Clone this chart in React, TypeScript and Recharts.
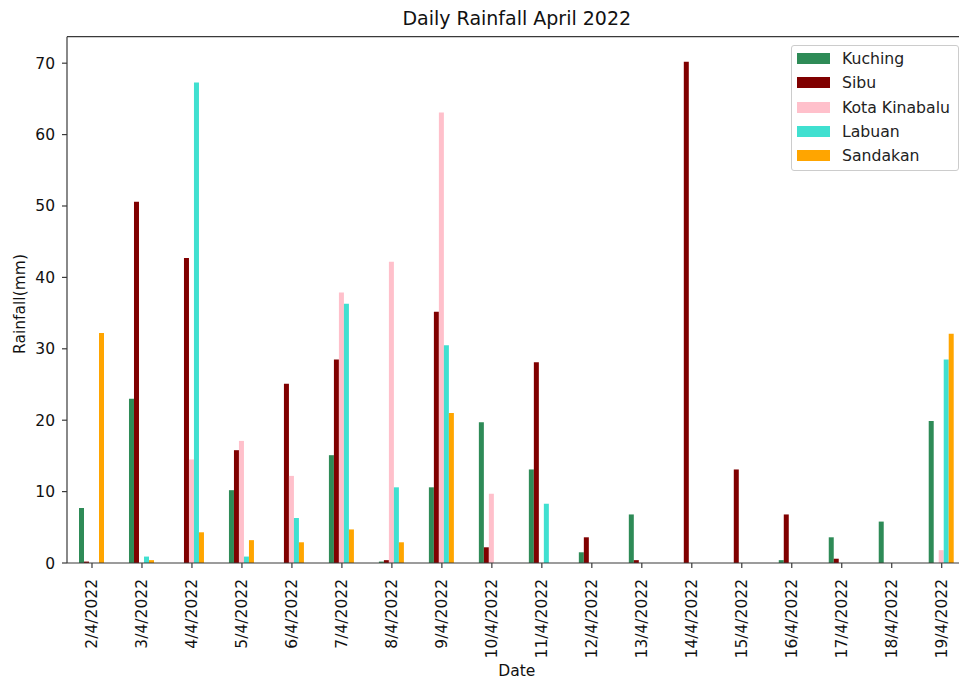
import React from 'react';
import { BarChart, Bar, XAxis, YAxis, Legend, Customized, ReferenceLine } from 'recharts';

const dates = ['2/4/2022', '3/4/2022', '4/4/2022', '5/4/2022', '6/4/2022', '7/4/2022', '8/4/2022', '9/4/2022', '10/4/2022', '11/4/2022', '12/4/2022', '13/4/2022', '14/4/2022', '15/4/2022', '16/4/2022', '17/4/2022', '18/4/2022', '19/4/2022'];
const kuching = [7.7, 23.0, 0, 10.2, 0, 15.1, 0.2, 10.6, 19.7, 13.1, 1.5, 6.8, 0, 0, 0.4, 3.6, 5.8, 19.9];
const sibu = [0.2, 50.6, 42.7, 15.8, 25.1, 28.5, 0.4, 35.2, 2.2, 28.1, 3.6, 0.4, 70.2, 13.1, 6.8, 0.6, 0, 0];
const kotaKinabalu = [0, 0, 14.5, 17.1, 12.2, 37.9, 42.2, 63.1, 9.7, 0, 0, 0, 0, 0, 0, 0, 0, 1.8];
const labuan = [0, 0.9, 67.3, 0.9, 6.3, 36.3, 10.6, 30.5, 0, 8.3, 0, 0, 0, 0, 0, 0, 0, 28.5];
const sandakan = [32.2, 0.4, 4.3, 3.2, 2.9, 4.7, 2.9, 21.0, 0, 0, 0, 0, 0, 0, 0, 0, 0, 32.1];
const yTicks = [0, 10, 20, 30, 40, 50, 60, 70];

const series = [
  { key: 'Kuching', color: '#2E8B57', values: kuching },
  { key: 'Sibu', color: '#800000', values: sibu },
  { key: 'Kota Kinabalu', color: '#FFC0CB', values: kotaKinabalu },
  { key: 'Labuan', color: '#40E0D0', values: labuan },
  { key: 'Sandakan', color: '#FFA500', values: sandakan },
];

const data = dates.map((d, i) => {
  const row: Record<string, any> = { date: d };
  series.forEach((s) => { row[s.key] = s.values[i]; });
  return row;
});

const maxVal = Math.max(...series.flatMap((s) => s.values));
const yMax = maxVal * 1.05;

const FONT = 'DejaVu Sans, sans-serif';
const AXIS = '#3a3a3a';

const XTick = (props: any) => {
  const { x, y, payload } = props;
  return (
    <g transform={`translate(${x},${y})`}>
      <text transform="rotate(-90)" textAnchor="end" dy="0.35em" fontSize={15.5} fontFamily={FONT} fill="#111">
        {payload.value}
      </text>
    </g>
  );
};

const LegendBox = () => (
  <div
    style={{
      width: 168,
      height: 126,
      boxSizing: 'border-box',
      border: '1px solid #cccccc',
      borderRadius: 3,
      background: 'rgba(255,255,255,0.8)',
      paddingTop: 0.5,
      fontFamily: FONT,
      fontSize: 15.7,
      color: '#222',
    }}
  >
    {series.map((s) => (
      <div key={s.key} style={{ height: 24.3, display: 'flex', alignItems: 'center' }}>
        <span style={{ display: 'inline-block', width: 33, height: 11, background: s.color, marginLeft: 5, marginRight: 12 }} />
        <span style={{ whiteSpace: 'nowrap' }}>{s.key}</span>
      </div>
    ))}
  </div>
);

const Title = () => (
  <text x={516.8} y={25} textAnchor="middle" fontSize={19} fontFamily={FONT} fill="#111">
    Daily Rainfall April 2022
  </text>
);

export default function App() {
  return (
    <div style={{ position: 'absolute', left: 0, top: 0, width: 959, height: 679, overflow: 'hidden', background: '#fff' }}>
      <BarChart
        width={980}
        height={679}
        data={data}
        margin={{ top: 36.7, right: 13.3, left: 0, bottom: 0 }}
        barSize={5}
        barGap={0}
        barCategoryGap="25%"
      >
        <XAxis
          dataKey="date"
          interval={0}
          height={116}
          tickSize={5}
          tickMargin={11}
          tick={<XTick />}
          stroke={AXIS}
          strokeWidth={1.2}
          label={{
            content: () => (
              <text x={516.8} y={676} textAnchor="middle" fontSize={15.5} fontFamily={FONT} fill="#111">Date</text>
            ),
          }}
        />
        <YAxis
          width={67}
          domain={[0, yMax]}
          ticks={yTicks}
          allowDataOverflow
          tickSize={5}
          tickMargin={7}
          stroke={AXIS}
          strokeWidth={1.2}
          tick={{ fontSize: 15.5, fontFamily: FONT, fill: '#111' }}
          label={{
            content: () => (
              <text transform="translate(25,304) rotate(-90)" textAnchor="middle" fontSize={15.5} fontFamily={FONT} fill="#111">Rainfall(mm)</text>
            ),
          }}
        />
        <ReferenceLine y={yMax} stroke={AXIS} strokeWidth={1.2} ifOverflow="extendDomain" />
        <Legend
          layout="vertical"
          align="center"
          verticalAlign="middle"
          content={<LegendBox />}
          wrapperStyle={{ position: 'absolute', left: 791, top: 45, width: 168, height: 126 }}
        />
        {series.map((s) => (
          <Bar key={s.key} dataKey={s.key} fill={s.color} isAnimationActive={false} />
        ))}
        <Customized component={Title} />
      </BarChart>
    </div>
  );
}
